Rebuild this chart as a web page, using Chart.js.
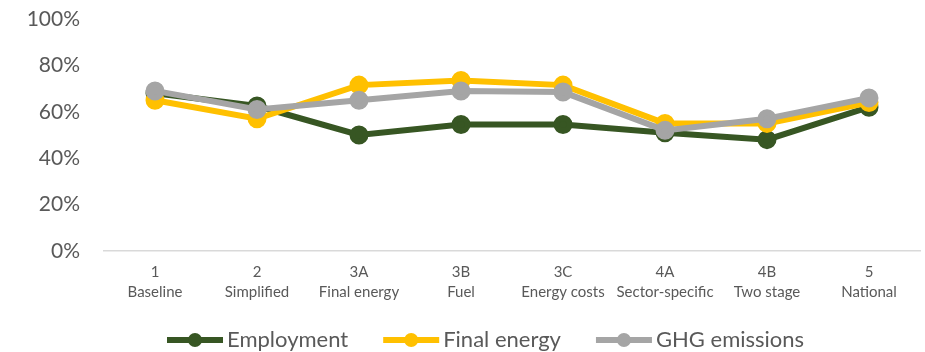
<!DOCTYPE html>
<html>
<head>
<meta charset="utf-8">
<script src="https://cdn.jsdelivr.net/npm/chart.js@4"></script>
<style>
    html, body { margin: 0; padding: 0; background: #fff; }
    #chartBox { width: 925px; height: 352px; }
</style>
</head>
<body>
<div id="chartBox"><canvas id="scenarioChart"></canvas></div>
<script>
const scenarioCodes = ['1', '2', '3A', '3B', '3C', '4A', '4B', '5'];
const scenarioNames = ['Baseline', 'Simplified', 'Final energy', 'Fuel', 'Energy costs', 'Sector-specific', 'Two stage', 'National'];

const employment = [68, 62.5, 50, 54.5, 54.5, 51, 48, 62];
const finalEnergy = [65, 57, 71.5, 73.5, 71.5, 55, 55, 64];
const ghgEmissions = [69, 61, 65, 69, 68.5, 52, 57, 66];

const yTicks = [0, 20, 40, 60, 80, 100];

const textColor = '#595959';
const fontFamily = 'Lato, "Open Sans", sans-serif';

// legend drawn by hand: line with a dot, then the label
const lineLegend = {
    id: 'lineLegend',
    afterDraw(chart) {
        const ctx = chart.ctx;
        const y = 340;
        let x = 167;
        ctx.save();
        ctx.font = '22px ' + fontFamily;
        ctx.textBaseline = 'middle';
        chart.data.datasets.forEach((ds) => {
            ctx.strokeStyle = ds.borderColor;
            ctx.lineWidth = 6;
            ctx.beginPath();
            ctx.moveTo(x, y);
            ctx.lineTo(x + 56, y);
            ctx.stroke();
            ctx.fillStyle = ds.borderColor;
            ctx.beginPath();
            ctx.arc(x + 28, y, 7, 0, Math.PI * 2);
            ctx.fill();
            ctx.fillStyle = textColor;
            ctx.fillText(ds.label, x + 60, y);
            x += 60 + ctx.measureText(ds.label).width + 35;
        });
        ctx.restore();
    }
};

function series(label, values, color, order) {
    return {
        label: label,
        data: values,
        borderColor: color,
        backgroundColor: color,
        pointBackgroundColor: color,
        pointBorderColor: color,
        borderWidth: 6,
        pointRadius: 6.5,
        pointHoverRadius: 6.5,
        tension: 0,
        order: order
    };
}

const config = {
    type: 'line',
    data: {
        labels: scenarioCodes.map((c, i) => [c, scenarioNames[i]]),
        datasets: [
            series('Employment', employment, '#375623', 2),
            series('Final energy', finalEnergy, '#FFC000', 1),
            series('GHG emissions', ghgEmissions, '#A5A5A5', 0)
        ]
    },
    options: {
        responsive: false,
        animation: false,
        layout: { autoPadding: false, padding: { left: 0, right: 5, top: 19, bottom: 41 } },
        plugins: {
            legend: { display: false },
            tooltip: { enabled: false }
        },
        scales: {
            x: {
                offset: true,
                grid: { display: false, drawTicks: false },
                border: { display: true, color: '#D9D9D9', width: 1.5 },
                ticks: {
                    color: textColor,
                    padding: 11,
                    maxRotation: 0,
                    autoSkip: false,
                    font: { family: fontFamily, size: 15, lineHeight: 1.35 }
                },
                afterFit(scale) { scale.height = 60; }
            },
            y: {
                min: 0,
                max: 100,
                afterBuildTicks(scale) { scale.ticks = yTicks.map(v => ({ value: v })); },
                // no visible grid; the tick length only keeps labels clear of the plot
                grid: { display: false, drawTicks: true, tickLength: 24 },
                border: { display: false },
                ticks: {
                    color: textColor,
                    padding: 0,
                    font: { family: fontFamily, size: 21 },
                    callback: (v) => v + '%'
                },
                afterFit(scale) { scale.width = 104; }
            }
        }
    },
    plugins: [lineLegend]
};

const canvas = document.getElementById('scenarioChart');
canvas.width = 925;
canvas.height = 352;
new Chart(canvas, config);
</script>
</body>
</html>
